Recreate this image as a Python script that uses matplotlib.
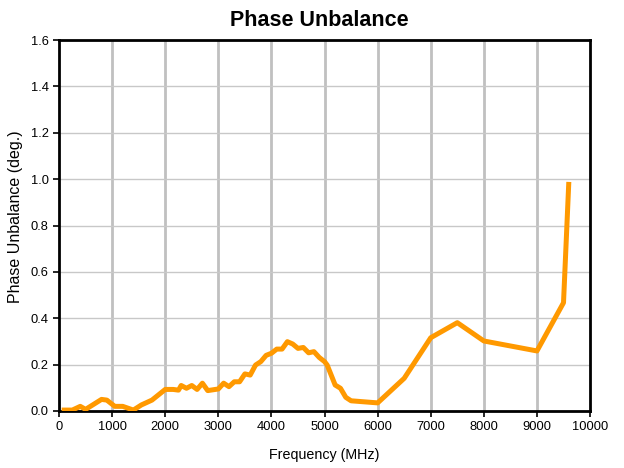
import matplotlib
matplotlib.use("Agg")
import matplotlib.pyplot as plt

freq_mhz = [50, 250, 400, 500, 800, 900, 1050, 1200, 1400, 1550, 1750, 2000, 2150, 2250,
            2300, 2400, 2500, 2600, 2700, 2800, 3000, 3100, 3200, 3300, 3400, 3500, 3600,
            3700, 3800, 3900, 4000, 4100, 4200, 4300, 4400, 4500, 4600, 4700, 4800, 4900,
            5000, 5050, 5200, 5300, 5400, 5500, 6000, 6500, 7000, 7500, 8000, 9000, 9500, 9600]
phase_deg = [0.004, 0.004, 0.02, 0.007, 0.05, 0.047, 0.02, 0.02, 0.004, 0.026, 0.047, 0.093,
             0.093, 0.09, 0.11, 0.098, 0.11, 0.093, 0.12, 0.088, 0.095, 0.12, 0.105, 0.126,
             0.126, 0.16, 0.155, 0.198, 0.213, 0.24, 0.249, 0.267, 0.267, 0.299, 0.289, 0.27,
             0.274, 0.251, 0.256, 0.231, 0.213, 0.198, 0.112, 0.098, 0.059, 0.044, 0.035,
             0.141, 0.316, 0.381, 0.302, 0.259, 0.467, 0.988]

x_ticks = list(range(0, 10001, 1000))
y_ticks = [0.0, 0.2, 0.4, 0.6, 0.8, 1.0, 1.2, 1.4, 1.6]

plt.rcParams['font.family'] = ['Liberation Sans', 'DejaVu Sans']

fig = plt.figure(figsize=(6.24, 4.68), dpi=100)
ax = fig.add_axes([0.0946, 0.1218, 0.851, 0.7927])

ax.plot(freq_mhz, phase_deg, color='#FF9900', linewidth=3.6, solid_joinstyle='round',
        solid_capstyle='butt', zorder=3)

ax.set_xlim(0, 10000)
ax.set_ylim(0, 1.6)
ax.set_xticks(x_ticks)
ax.set_yticks(y_ticks)
ax.set_yticklabels([f"{v:.1f}" for v in y_ticks])
ax.tick_params(axis='both', labelsize=9.3, direction='out', length=4, width=1.2, colors='black')

for x in x_ticks[1:-1]:
    ax.axvline(x, color='#c0c0c0', linewidth=2.0, zorder=1)
for y in y_ticks[1:-1]:
    ax.axhline(y, color='#c8c8c8', linewidth=1.0, zorder=1)

for s in ax.spines.values():
    s.set_linewidth(2.0)
    s.set_color('black')

fig.text(319 / 624, 1 - 20 / 468, 'Phase Unbalance', fontsize=15.5, fontweight='bold',
         ha='center', va='center')
ax.set_xlabel('Frequency (MHz)', fontsize=10.3, labelpad=10.5)
ax.set_ylabel('Phase Unbalance (deg.)', fontsize=11.5)
ax.yaxis.set_label_coords(-0.068, 0.524)

fig.savefig('out.png', dpi=100)
